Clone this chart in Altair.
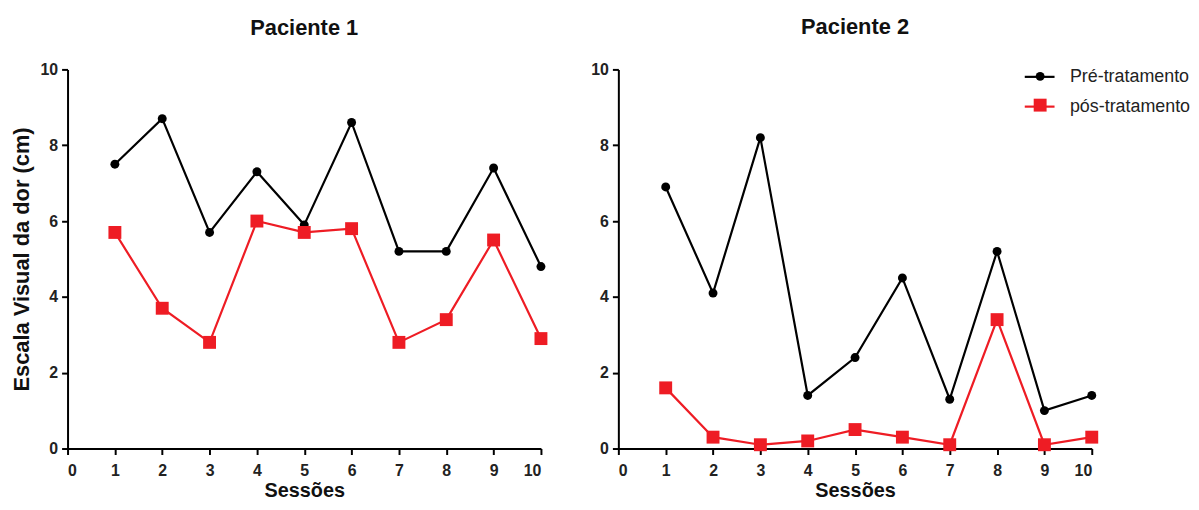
import altair as alt
import pandas as pd

sessoes = [1, 2, 3, 4, 5, 6, 7, 8, 9, 10]
series = ["Pré-tratamento", "pós-tratamento"]
marcadores = ["pre", "pos"]
cores = ["#000000", "#ee1c24"]
p1_pre = [7.5, 8.7, 5.7, 7.3, 5.9, 8.6, 5.2, 5.2, 7.4, 4.8]
p1_pos = [5.7, 3.7, 2.8, 6.0, 5.7, 5.8, 2.8, 3.4, 5.5, 2.9]
p2_pre = [6.9, 4.1, 8.2, 1.4, 2.4, 4.5, 1.3, 5.2, 1.0, 1.4]
p2_pos = [1.6, 0.3, 0.1, 0.2, 0.5, 0.3, 0.1, 3.4, 0.1, 0.3]
x_ticks = [0, 1, 2, 3, 4, 5, 6, 7, 8, 9, 10]
y_ticks = [0, 2, 4, 6, 8, 10]

rows = []
for pac, pre, pos in [("Paciente 1", p1_pre, p1_pos), ("Paciente 2", p2_pre, p2_pos)]:
    for vals, serie, marc in [(pre, series[0], marcadores[0]), (pos, series[1], marcadores[1])]:
        for s, v in zip(sessoes, vals):
            rows.append({"paciente": pac, "sessao": s, "valor": v, "serie": serie, "marcador": marc})
df = pd.DataFrame(rows)

FONT = "Liberation Sans"


def panel(pac, show_legend, ytitle):
    base = alt.Chart(df[df.paciente == pac])
    x = alt.X("sessao:Q", title="Sessões",
              scale=alt.Scale(domain=[0, 10], nice=False),
              axis=alt.Axis(values=x_ticks, format="d", labelPadding=8, titlePadding=2))
    y = alt.Y("valor:Q", title=ytitle,
              scale=alt.Scale(domain=[0, 10], nice=False),
              axis=alt.Axis(values=y_ticks, format="d", labelPadding=4,
                            titlePadding=7, titleFontSize=22))
    if show_legend:
        leg_line = alt.Legend(title=None, orient="none", legendX=408, legendY=-9,
                              symbolType="stroke", symbolSize=900, symbolStrokeWidth=2.2,
                              labelFontSize=18, labelFont=FONT, labelOffset=14,
                              labelColor="#222222", rowPadding=4)
        leg_pt = alt.Legend(title=None, orient="none", legendX=416, legendY=-2,
                            labelFontSize=18, labelFont=FONT, labelOffset=0,
                            labelExpr="''", rowPadding=11, symbolStrokeWidth=0)
    else:
        leg_line = None
        leg_pt = None
    line = base.mark_line(strokeWidth=2.2).encode(
        x=x, y=y,
        color=alt.Color("serie:N", scale=alt.Scale(domain=series, range=cores), legend=leg_line),
    )
    pts = base.mark_point(filled=True, opacity=1, strokeWidth=0).encode(
        x=x, y=y,
        fill=alt.Fill("marcador:N", scale=alt.Scale(domain=marcadores, range=cores), legend=leg_pt),
        shape=alt.Shape("marcador:N", scale=alt.Scale(domain=marcadores, range=["circle", "square"]), legend=leg_pt),
        size=alt.Size("marcador:N", scale=alt.Scale(domain=marcadores, range=[81, 169]), legend=leg_pt),
    )
    return alt.layer(line, pts).properties(
        width=477, height=382,
        title=alt.TitleParams(pac, fontSize=22, font=FONT, fontWeight="bold", offset=22,
                              color="#111111"),
    )


chart = alt.hconcat(
    panel("Paciente 1", False, "Escala Visual da dor (cm)"),
    panel("Paciente 2", True, None),
    spacing=43,
).resolve_scale(
    color="independent", fill="independent", shape="independent", size="independent"
).properties(
    padding={"left": 2, "top": 6, "right": 0, "bottom": 0}, background="white"
).configure_view(
    stroke=None
).configure_axis(
    grid=False,
    domainColor="#000000", domainWidth=2,
    tickColor="#000000", tickWidth=2, tickSize=6,
    labelFont=FONT, labelFontSize=16, labelFontWeight="bold", labelColor="#222222",
    titleFont=FONT, titleFontSize=20, titleFontWeight="bold", titleColor="#111111",
)

chart.save("out.html", embed_options={"renderer": "svg", "actions": False})
